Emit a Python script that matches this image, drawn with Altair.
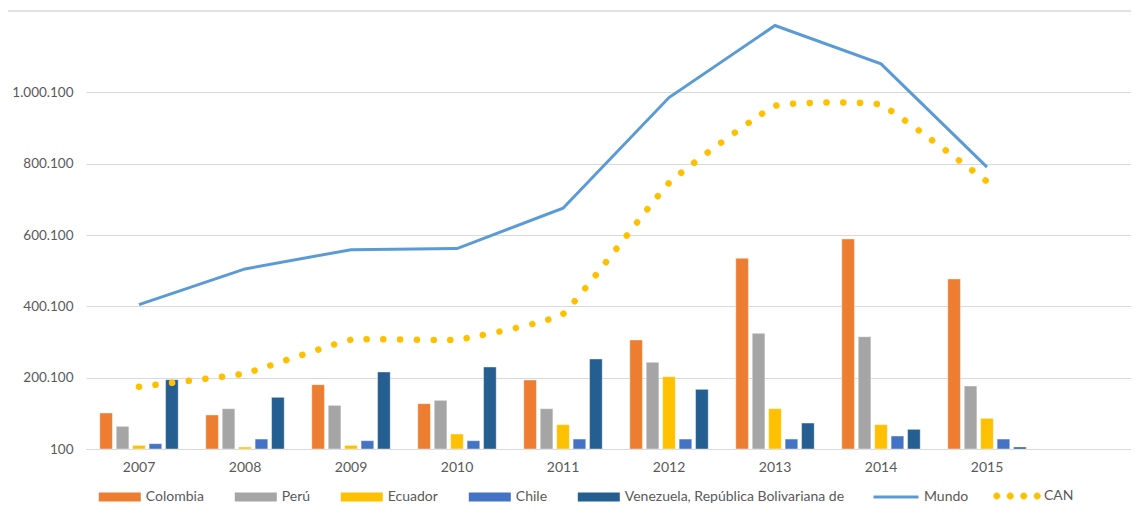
import altair as alt
import pandas as pd

years = ["2007", "2008", "2009", "2010", "2011", "2012", "2013", "2014", "2015"]
x_domain = years + [""]

countries = ["Colombia", "Perú", "Ecuador", "Chile", "Venezuela, República Bolivariana de"]
colombia = [101000, 95400, 180500, 127200, 193500, 305700, 534800, 589000, 476900]
peru = [63600, 113100, 122500, 136500, 113100, 243100, 324400, 315100, 176700]
ecuador = [10300, 5600, 10300, 42100, 68300, 202900, 113100, 68300, 86000]
chile = [15000, 28000, 23400, 23400, 28000, 28000, 28000, 36500, 28000]
venezuela = [194500, 145000, 216000, 230000, 252500, 167400, 72900, 55200, 5600]
mundo = [404800, 505000, 559000, 562000, 675200, 985400, 1187400, 1080000, 790200]
can = [174800, 212000, 306600, 306600, 378700, 746100, 962000, 965000, 750000]

bar_colors = ["#ED7D31", "#A5A5A5", "#FFC000", "#4472C4", "#255E91"]
y_ticks = [100, 200100, 400100, 600100, 800100, 1000100]

rows = []
for c, vals in zip(countries, [colombia, peru, ecuador, chile, venezuela]):
    for y, v in zip(years, vals):
        rows.append({"year": y, "country": c, "value": v})
bars_df = pd.DataFrame(rows)
mundo_df = pd.DataFrame({"year": years, "value": mundo, "series": "Mundo"})
can_df = pd.DataFrame({"year": years, "value": can, "series": "CAN"})

FONT = "Lato"
GRAY = "#595959"

x_scale = alt.Scale(domain=x_domain, range=[0, 1060], paddingInner=0.26, paddingOuter=0.13)
y_scale = alt.Scale(domain=[100, 1200100], zero=False, nice=False)

x_enc = alt.X("year:N", scale=x_scale, sort=x_domain,
              axis=alt.Axis(title=None, labelAngle=0, ticks=False, labelPadding=11,
                            domainColor="#D9D9D9", labelColor=GRAY, labelFontSize=14,
                            labelFont=FONT, grid=False))
y_enc = alt.Y("value:Q", scale=y_scale,
              axis=alt.Axis(title=None, values=y_ticks, ticks=False, domain=False,
                            labelPadding=13, labelColor=GRAY, labelFontSize=13.5,
                            labelFont=FONT, gridColor="#D9D9D9", gridWidth=1,
                            labelExpr="replace(format(datum.value, ','), regexp(',', 'g'), '.')"))

bars = alt.Chart(bars_df).mark_bar(stroke="white", strokeWidth=0.6, strokeOpacity=0.7).encode(
    x=x_enc,
    xOffset=alt.XOffset("country:N", sort=countries,
                        scale=alt.Scale(domain=countries, paddingInner=0.23, paddingOuter=0)),
    y=y_enc,
    y2=alt.datum(100),
    color=alt.Color("country:N", sort=countries,
                    scale=alt.Scale(domain=countries, range=bar_colors),
                    legend=alt.Legend(orient="none", legendX=12.8, legendY=455,
                                      direction="horizontal", title=None,
                                      symbolType="M-1,-0.214H1V0.214H-1Z", symbolSize=1764,
                                      symbolStrokeWidth=0, labelFontSize=14,
                                      labelColor=GRAY, labelFont=FONT, labelOffset=5,
                                      labelLimit=400, columnPadding=30, padding=0)),
)

mundo_line = alt.Chart(mundo_df).mark_line(strokeWidth=3).encode(
    x=alt.X("year:N", scale=x_scale, sort=x_domain),
    y=alt.Y("value:Q", scale=y_scale),
    color=alt.Color("series:N", scale=alt.Scale(domain=["Mundo"], range=["#5B9BD5"]),
                    legend=alt.Legend(orient="none", legendX=786, legendY=452,
                                      title=None, symbolType="stroke", symbolSize=2025,
                                      symbolStrokeWidth=3, labelFontSize=14,
                                      labelColor=GRAY, labelFont=FONT, labelOffset=4,
                                      padding=0)),
)

dots_path = "".join(
    f"M{cx - 0.14:.3f},0a0.14,0.14 0 1,0 0.28,0a0.14,0.14 0 1,0 -0.28,0Z"
    for cx in [-0.86, -0.287, 0.287, 0.86]
)

can_line = alt.Chart(can_df).mark_line(strokeWidth=6.5, strokeDash=[0.1, 16.6],
                                       strokeCap="round", interpolate="cardinal",
                                       tension=0.7).encode(
    x=alt.X("year:N", scale=x_scale, sort=x_domain),
    y=alt.Y("value:Q", scale=y_scale),
    color=alt.Color("series:N", scale=alt.Scale(domain=["CAN"], range=["#FFC000"]),
                    legend=alt.Legend(orient="none", legendX=907, legendY=451,
                                      title=None, symbolType=dots_path, symbolSize=2209,
                                      symbolStrokeWidth=0.5, symbolDash=[1, 0],
                                      symbolFillColor="#FFC000",
                                      labelFontSize=14, labelColor=GRAY, labelFont=FONT,
                                      labelOffset=3, padding=0)),
)

border = alt.Chart(pd.DataFrame({"k": [0]})).mark_rule(color="#D9D9D9", strokeWidth=1.5).encode(
    x=alt.value(-80), x2=alt.value(1060), y=alt.value(-10)
)

chart = alt.layer(bars, mundo_line, can_line, border).resolve_scale(
    color="independent"
).properties(
    width=1045, height=428,
    padding={"left": 78, "top": 13, "right": 0, "bottom": 55},
    autosize=alt.AutoSizeParams(type="none"),
).configure(font=FONT, background="white").configure_view(stroke=None)

chart.save("out.html", embed_options={"renderer": "svg", "actions": False})
